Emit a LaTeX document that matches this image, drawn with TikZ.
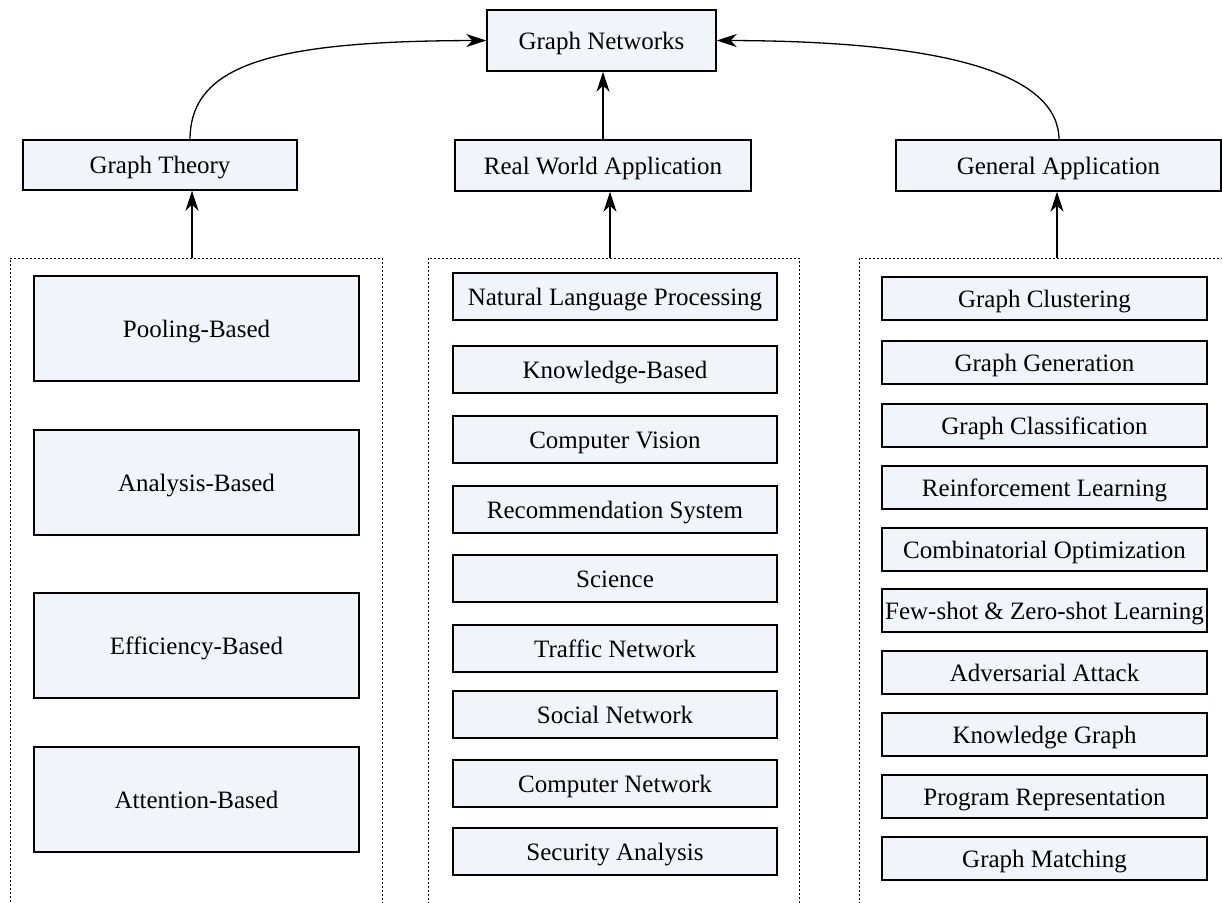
\documentclass[tikz,border=0pt]{standalone}
\usepackage{fontspec}
\setmainfont{Liberation Serif}
\usetikzlibrary{arrows.meta,calc}
\definecolor{boxfill}{RGB}{241,245,250}
\begin{document}
\begin{tikzpicture}[x=1pt,y=-1pt,
  box/.style={draw=black,line width=1.4pt,fill=boxfill,inner sep=0pt,
    text height=17pt,text depth=0pt,
    font=\rmfamily\fontsize{25}{30}\selectfont,anchor=center},
  lbox/.style={box,minimum width=325pt,minimum height=105pt},
  mbox/.style={box,minimum width=324pt,minimum height=47pt},
  rbox/.style={box,minimum width=325pt,minimum height=43pt},
  cont/.style={draw=black,line width=0.9pt,dash pattern=on 2pt off 2pt,inner sep=0pt},
  arr/.style={line width=1.3pt,-{Stealth[length=20pt,width=13pt,inset=6pt]}}]
\useasboundingbox (0,0) rectangle (1222,902);
% containers (open at the bottom)
\node[cont,minimum width=372pt,minimum height=662pt] (c1) at (196,589) {};
\node[cont,minimum width=371pt,minimum height=662pt] (c2) at (613.5,589) {};
\node[cont,minimum width=381pt,minimum height=662pt] (c3) at (1049.5,589) {};
% top level
\node[box,minimum width=229pt,minimum height=61pt] (gn) at (601.5,40.5) {Graph Networks};
\node[box,minimum width=274pt,minimum height=50pt] (gt) at (160,165) {Graph Theory};
\node[box,minimum width=296pt,minimum height=51pt] (rw) at (603,165.5) {Real World Application};
\node[box,minimum width=325pt,minimum height=51pt] (ga) at (1058.5,165.5) {General Application};
% left column
\node[lbox] (l1) at (196.5,328.5) {Pooling-Based};
\node[lbox] (l2) at (196.5,482.5) {Analysis-Based};
\node[lbox] (l3) at (196.5,645.5) {Efficiency-Based};
\node[lbox] (l4) at (196.5,799.5) {Attention-Based};
% middle column
\node[mbox] (m1) at (615,296.5) {Natural Language Processing};
\node[mbox] (m2) at (615,369.5) {Knowledge-Based};
\node[mbox] (m3) at (615,439.5) {Computer Vision};
\node[mbox] (m4) at (615,509.5) {Recommendation System};
\node[mbox] (m5) at (615,578.5) {Science};
\node[mbox] (m6) at (615,648.5) {Traffic Network};
\node[mbox] (m7) at (615,714.5) {Social Network};
\node[mbox] (m8) at (615,783.5) {Computer Network};
\node[mbox] (m9) at (615,851.5) {Security Analysis};
% right column
\node[rbox] (r1) at (1044.5,298.5) {Graph Clustering};
\node[rbox] (r2) at (1044.5,362.5) {Graph Generation};
\node[rbox] (r3) at (1044.5,425.5) {Graph Classification};
\node[rbox] (r4) at (1044.5,487.5) {Reinforcement Learning};
\node[rbox] (r5) at (1044.5,549.5) {Combinatorial Optimization};
\node[rbox] (r6) at (1044.5,610.5) {Few-shot \& Zero-shot Learning};
\node[rbox] (r7) at (1044.5,672.5) {Adversarial Attack};
\node[rbox] (r8) at (1044.5,734.5) {Knowledge Graph};
\node[rbox] (r9) at (1044.5,796.5) {Program Representation};
\node[rbox] (r10) at (1044.5,858.5) {Graph Matching};
% connectors
\coordinate (a1) at (192,258);
\coordinate (a2) at (610,258);
\coordinate (a3) at (1057,258);
\draw[arr] (a1) -- (a1 |- gt.south);
\draw[arr] (a2) -- (a2 |- rw.south);
\draw[arr] (a3) -- (a3 |- ga.south);
\draw[arr] (rw.north) -- (rw.north |- gn.south);
\coordinate (s1) at (190,140);
\coordinate (s3) at (1059,140);
\draw[arr] (s1) .. controls (190,65) and (270,41) .. (gn.west);
\draw[arr] (s3) .. controls (1059,75) and (950,41) .. (gn.east);
\end{tikzpicture}
\end{document}
